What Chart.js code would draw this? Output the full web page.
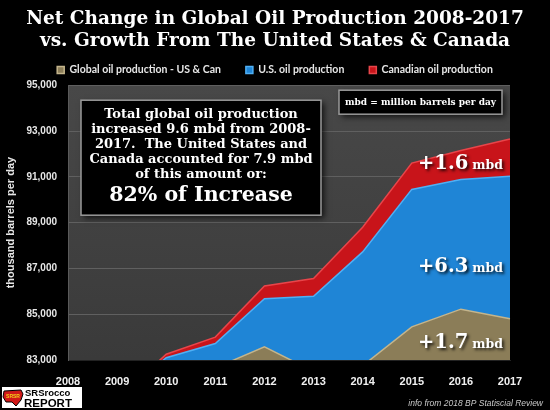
<!DOCTYPE html>
<html>
<head>
<meta charset="utf-8">
<script src="https://cdn.jsdelivr.net/npm/chart.js@4/dist/chart.umd.min.js"></script>
<style>
    html, body { margin: 0; padding: 0; background: #000; }
    #wrap { width: 550px; height: 410px; position: relative; }
</style>
</head>
<body>
<div id="wrap"><canvas id="oilChart"></canvas></div>
<script>
// data (thousand barrels per day)
var years = ['2008', '2009', '2010', '2011', '2012', '2013', '2014', '2015', '2016', '2017'];
var globalExUsCan = [82900, 80800, 82300, 82650, 83580, 82500, 82750, 84450, 85220, 84800];
var usGrowth = [0, 500, 800, 1070, 2100, 3280, 4970, 6000, 5660, 6220];
var canadaGrowth = [0, 0, 150, 280, 550, 780, 1080, 1150, 1270, 1630];
var seriesNames = ['Global oil production - US & Can', 'U.S. oil production', 'Canadian oil production'];
var yMin = 83000, yMax = 95000, yStep = 2000;

var titleLines = ['Net Change in Global Oil Production 2008-2017', 'vs. Growth From The United States & Canada'];
var boxLines = ['Total global oil production', 'increased 9.6 mbd from 2008-', '2017.  The United States and', 'Canada accounted for 7.9 mbd', 'of this amount or:'];
var boxHeadline = '82% of Increase';
var unitNote = 'mbd = million barrels per day';
var callouts = [['+1.6', 91340], ['+6.3', 86830], ['+1.7', 83530]];
var footNote = 'info from 2018 BP Statiscial Review';

var serif = '"DejaVu Serif", serif';

function panel(ctx, x, y, w, h) {
    ctx.save();
    ctx.shadowColor = 'rgba(0,0,0,0.75)';
    ctx.shadowBlur = 6;
    ctx.shadowOffsetX = 3;
    ctx.shadowOffsetY = 3;
    ctx.fillStyle = '#000';
    ctx.fillRect(x, y, w, h);
    ctx.restore();
    ctx.strokeStyle = '#9a9a9a';
    ctx.lineWidth = 1.5;
    ctx.strokeRect(x, y, w, h);
}

var notesPlugin = {
    id: 'notes',
    beforeDraw: function(chart) {
        var ctx = chart.ctx, a = chart.chartArea;
        ctx.save();
        ctx.fillStyle = '#000';
        ctx.fillRect(0, 0, chart.width, chart.height);
        var g = ctx.createLinearGradient(0, a.top, 0, a.bottom);
        g.addColorStop(0, '#484848');
        g.addColorStop(1, '#3a3a3a');
        ctx.fillStyle = g;
        ctx.fillRect(a.left, a.top, a.right - a.left, a.bottom - a.top);
        ctx.restore();
    },
    afterDraw: function(chart) {
        var ctx = chart.ctx, a = chart.chartArea, y = chart.scales.y;
        ctx.save();

        // big text box
        var bx = a.left + 13, by = a.top + 15, bw = 240, bh = 115;
        panel(ctx, bx, by, bw, bh);
        ctx.fillStyle = '#fff';
        ctx.textAlign = 'center';
        ctx.textBaseline = 'middle';
        ctx.font = 'bold 13px ' + serif;
        boxLines.forEach(function(t, i) {
            ctx.fillText(t, bx + bw / 2, by + 14 + i * 15);
        });
        ctx.font = 'bold 20.5px ' + serif;
        ctx.fillText(boxHeadline, bx + bw / 2, by + 95);

        // unit note
        var ux = a.left + 271, uy = a.top + 5;
        panel(ctx, ux, uy, 163, 24);
        ctx.font = 'bold 9px ' + serif;
        ctx.fillText(unitNote, ux + 81.5, uy + 12.5);

        // callouts
        ctx.textAlign = 'right';
        ctx.textBaseline = 'alphabetic';
        ctx.shadowColor = 'rgba(0,0,0,0.8)';
        ctx.shadowBlur = 3;
        ctx.shadowOffsetX = 2;
        ctx.shadowOffsetY = 2;
        callouts.forEach(function(c) {
            var py = y.getPixelForValue(c[1]);
            var rx = a.right - 7;
            ctx.font = 'bold 12.5px ' + serif;
            ctx.fillText('mbd', rx, py);
            var w = ctx.measureText('mbd').width;
            ctx.font = 'bold 19.5px ' + serif;
            ctx.fillText(c[0], rx - w - 4, py);
        });
        ctx.shadowColor = 'transparent';

        // footnote
        ctx.fillStyle = '#c8c8c8';
        ctx.font = 'italic 8.5px "Liberation Sans", sans-serif';
        ctx.fillText(footNote, 543, 406);

        // logo
        ctx.fillStyle = '#fff';
        ctx.fillRect(2, 387, 80, 21);
        ctx.fillStyle = '#d01818';
        ctx.strokeStyle = '#000';
        ctx.lineWidth = 1;
        ctx.beginPath();
        ctx.moveTo(4, 391); ctx.lineTo(21, 390); ctx.lineTo(23, 394); ctx.lineTo(21, 400);
        ctx.lineTo(16, 406); ctx.lineTo(12, 402); ctx.lineTo(6, 402); ctx.lineTo(3, 397);
        ctx.closePath();
        ctx.fill();
        ctx.stroke();
        ctx.fillStyle = '#f2d21a';
        ctx.font = 'bold 5px "Liberation Sans", sans-serif';
        ctx.textAlign = 'center';
        ctx.fillText('SRSR', 13, 398);
        ctx.textAlign = 'left';
        ctx.fillStyle = '#000';
        ctx.font = 'bold 9.5px "Liberation Sans", sans-serif';
        ctx.fillText('SRSrocco', 25, 396);
        ctx.font = 'bold 11.5px "Liberation Sans", sans-serif';
        ctx.fillText('REPORT', 24, 407);

        ctx.restore();
    }
};

new Chart(document.getElementById('oilChart'), {
    type: 'line',
    data: {
        labels: years,
        datasets: [{
            label: seriesNames[0],
            data: globalExUsCan,
            backgroundColor: '#8b7d58',
            borderColor: '#c4b58c',
            borderWidth: 1.5,
            fill: 'origin'
        }, {
            label: seriesNames[1],
            data: usGrowth,
            backgroundColor: '#1f85d6',
            borderColor: '#4fb0f5',
            borderWidth: 1.5,
            fill: '-1'
        }, {
            label: seriesNames[2],
            data: canadaGrowth,
            backgroundColor: '#c8141a',
            borderColor: '#e8454a',
            borderWidth: 1.5,
            fill: '-1'
        }]
    },
    options: {
        responsive: true,
        maintainAspectRatio: false,
        animation: false,
        elements: {
            point: { radius: 0 },
            line: { tension: 0 }
        },
        layout: { padding: 0 },
        scales: {
            x: {
                offset: false,
                grid: { display: false },
                border: { color: '#222' },
                ticks: {
                    color: '#f0f0f0',
                    padding: 7,
                    maxRotation: 0,
                    font: { family: '"Liberation Sans", sans-serif', size: 11, weight: 'bold' }
                },
                afterFit: function(s) { s.height = 50; }
            },
            y: {
                stacked: true,
                min: yMin,
                max: yMax,
                grid: { color: '#606060', drawTicks: false },
                border: { color: '#5a5a5a' },
                ticks: {
                    stepSize: yStep,
                    color: '#e6e6e6',
                    padding: 11,
                    font: { family: '"Liberation Sans", sans-serif', size: 10, weight: 'bold' }
                },
                title: {
                    display: true,
                    text: 'thousand barrels per day',
                    color: '#e6e6e6',
                    padding: { top: 4, bottom: 0 },
                    font: { family: '"Liberation Sans", sans-serif', size: 11, weight: 'bold' }
                },
                afterFit: function(s) { s.width = 68; }
            },
            y2: {
                position: 'right',
                min: 0,
                max: 1,
                grid: { display: false },
                border: { display: false },
                ticks: { display: false },
                afterFit: function(s) { s.width = 40; }
            }
        },
        plugins: {
            title: {
                display: true,
                text: titleLines,
                color: '#fff',
                font: { family: serif, size: 18.5, weight: 'bold', lineHeight: 22 / 18.5 },
                padding: { top: 8, bottom: -12.3 }
            },
            legend: {
                display: true,
                position: 'top',
                labels: {
                    color: '#e6e6e6',
                    boxWidth: 7,
                    boxHeight: 7,
                    padding: 25,
                    font: { family: 'Lato, sans-serif', size: 10.5, weight: 'bold' }
                }
            },
            tooltip: { enabled: false }
        }
    },
    plugins: [notesPlugin]
});
</script>
</body>
</html>
